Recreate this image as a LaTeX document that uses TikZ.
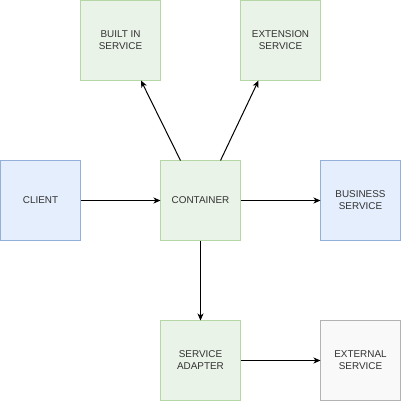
\documentclass[tikz,border=0pt]{standalone}
\usepackage{fontspec}
\setmainfont{Liberation Sans}
\usetikzlibrary{arrows.meta}
\definecolor{gfill}{HTML}{E9F3E7}
\definecolor{gdraw}{HTML}{B5D6A5}
\definecolor{bfill}{HTML}{E5EEFC}
\definecolor{bdraw}{HTML}{94B0DA}
\definecolor{xfill}{HTML}{F9F9F9}
\definecolor{xdraw}{HTML}{B3B3B3}
\definecolor{txt}{HTML}{333333}
\tikzset{
  box/.style={draw, line width=1pt, minimum size=80pt, inner sep=0pt, outer sep=0pt,
    align=center, text=txt, font=\fontsize{9.9}{12}\selectfont},
  gbox/.style={box, fill=gfill, draw=gdraw},
  bbox/.style={box, fill=bfill, draw=bdraw},
  xbox/.style={box, fill=xfill, draw=xdraw},
  conn/.style={line width=1pt, -{Stealth[length=7pt,width=6pt,inset=2pt]}}
}
\begin{document}
\begin{tikzpicture}[x=1pt,y=-1pt]
\useasboundingbox (0,0) rectangle (401,401);
\node[gbox] (built) at (120.5,40.5) {BUILT IN\\SERVICE};
\node[gbox] (ext) at (280.5,40.5) {EXTENSION\\SERVICE};
\node[bbox] (client) at (40.5,200.5) {CLIENT};
\node[gbox] (cont) at (200.5,200.5) {CONTAINER};
\node[bbox] (bus) at (360.5,200.5) {BUSINESS\\SERVICE};
\node[gbox] (adapt) at (200.5,360.5) {SERVICE\\ADAPTER};
\node[xbox] (extern) at (360.5,360.5) {EXTERNAL\\SERVICE};
\draw[conn] ([xshift=-20pt]cont.north) -- ([xshift=20.5pt]built.south);
\draw[conn] ([xshift=20pt]cont.north) -- ([xshift=-22pt]ext.south);
\draw[conn] (client) -- (cont);
\draw[conn] (cont) -- (bus);
\draw[conn] (cont) -- (adapt);
\draw[conn] (adapt) -- (extern);
\end{tikzpicture}
\end{document}
